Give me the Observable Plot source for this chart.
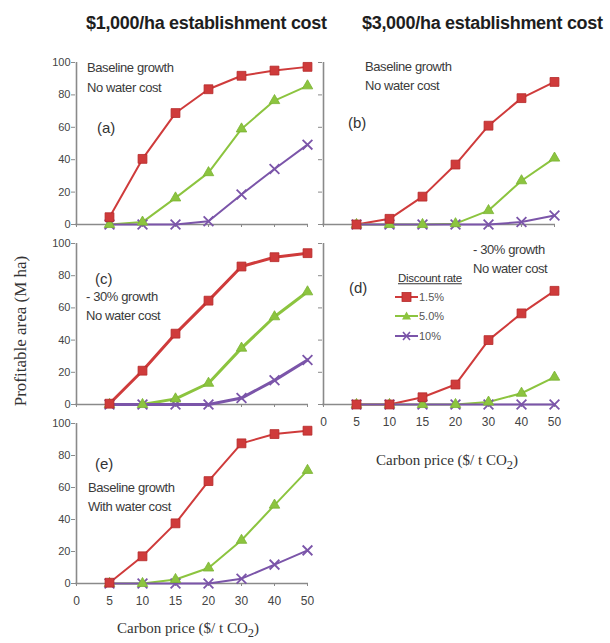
<!DOCTYPE html>
<html>
<head>
<meta charset="utf-8">
<script src="https://cdn.jsdelivr.net/npm/d3@7"></script>
<script src="https://cdn.jsdelivr.net/npm/@observablehq/plot@0.6"></script>
<style>
  html, body { margin: 0; padding: 0; background: #fff; }
  #wrap { position: relative; width: 610px; height: 643px; overflow: hidden; font-family: "Liberation Sans", Arial, sans-serif; }
  #wrap svg { position: absolute; left: 0; top: 0; }
  .t { position: absolute; white-space: nowrap; line-height: 1; }
</style>
</head>
<body>
<div id="wrap"></div>
<script>
// ---- data ----
const priceTicks = ["0", "5", "10", "15", "20", "30", "40", "50"];
const prices = ["5", "10", "15", "20", "30", "40", "50"];
const rates = ["1.5%", "5.0%", "10%"];
const yTicks = [0, 20, 40, 60, 80, 100];

// (a) $1,000/ha, baseline growth, no water cost
const a_r15 = [4.5, 40.5, 68.8, 83.5, 91.8, 95, 97.3];
const a_r50 = [0, 1.5, 16.4, 32, 59, 76.5, 85.6];
const a_r10 = [0, 0, 0, 2, 18.5, 34.3, 49.3];
// (b) $3,000/ha, baseline growth, no water cost
const b_r15 = [0, 3.5, 17.2, 37, 61, 78, 88];
const b_r50 = [0, 0, 0, 0.5, 8.6, 27, 41];
const b_r10 = [0, 0, 0, 0, 0, 1.5, 5.5];
// (c) $1,000/ha, -30% growth, no water cost
const c_r15 = [0.5, 21, 44, 64.5, 85.7, 91.5, 94];
const c_r50 = [0, 0, 3.5, 13.2, 35, 54.5, 70];
const c_r10 = [0, 0, 0, 0, 4, 15, 27.7];
// (d) $3,000/ha, -30% growth, no water cost
const d_r15 = [0, 0, 4.5, 12.4, 40, 56.6, 70.6];
const d_r50 = [0, 0, 0, 0, 1.5, 7, 17];
const d_r10 = [0, 0, 0, 0, 0, 0, 0];
// (e) $1,000/ha, baseline growth, with water cost
const e_r15 = [0.5, 17, 37.6, 64, 87.6, 93.4, 95.5];
const e_r50 = [0, 0, 2.5, 9.7, 27, 49, 70.7];
const e_r10 = [0, 0, 0, 0, 3, 11.8, 20.7];

const colTitles = ["$1,000/ha establishment cost", "$3,000/ha establishment cost"];
const yLabel = "Profitable area (M ha)";
const xLabelHTML = "Carbon price ($/ t CO<sub>2</sub>)";
const legendTitle = "Discount rate";

// ---- styles ----
const RED = "#cf3b3b", GREEN = "#8cc43f", PURPLE = "#7b55a9";
const colors = [RED, GREEN, PURPLE];
const W = 610, H = 643;
const cols = [{l: 75, r: 308}, {l: 322, r: 555}];
const rowsG = [{t: 62, b: 224}, {t: 243, b: 404}, {t: 423, b: 583}];

const wrap = document.getElementById("wrap");

function panel(series, col, row, opts) {
  const data = [];
  series.forEach((vals, k) => vals.forEach((v, i) => data.push({price: prices[i], value: v, rate: rates[k]})));
  const c = cols[col], rr = rowsG[row];
  const sw = opts.sw || 2;
  const svg = Plot.plot({
    width: W, height: H,
    marginLeft: c.l, marginRight: W - c.r, marginTop: rr.t, marginBottom: H - rr.b,
    style: {background: "transparent", color: "#444", fontFamily: "Liberation Sans, Arial, sans-serif", overflow: "visible"},
    x: {type: "point", domain: priceTicks, padding: 0, axis: null},
    y: {domain: [0, 100], axis: null},
    marks: [
      Plot.axisY({ticks: yTicks, tickSize: 4, tickPadding: 1, fontSize: 11, stroke: "#8a8a8a", label: null,
        tickFormat: opts.yLabels ? (d => String(d)) : (() => "")}),
      Plot.axisX({tickSize: 3, tickPadding: 10, fontSize: 12, stroke: "#8a8a8a", label: null,
        tickFormat: opts.xLabels ? (d => d) : (() => "")}),
      Plot.ruleY([0], {stroke: "#8a8a8a", strokeWidth: 1.6}),
      Plot.ruleX(["0"], {stroke: "#8a8a8a", strokeWidth: 1.6}),
      Plot.line(data, {x: "price", y: "value", z: "rate", stroke: d => colors[rates.indexOf(d.rate)], strokeWidth: sw}),
      Plot.dot(data.filter(d => d.rate === rates[2]), {x: "price", y: "value", symbol: "times", r: 4.5, stroke: PURPLE, strokeWidth: 1.8}),
      Plot.dot(data.filter(d => d.rate === rates[1]), {x: "price", y: "value", symbol: "triangle", r: 3.9, fill: GREEN, stroke: "#7ab232", strokeWidth: 0.8}),
      Plot.dot(data.filter(d => d.rate === rates[0]), {x: "price", y: "value", symbol: "square", r: 5, fill: RED, stroke: "#b52a2a", strokeWidth: 0.8})
    ]
  });
  wrap.appendChild(svg);
}

panel([a_r15, a_r50, a_r10], 0, 0, {yLabels: true});
panel([b_r15, b_r50, b_r10], 1, 0, {yLabels: false});
panel([c_r15, c_r50, c_r10], 0, 1, {yLabels: true, sw: 3});
panel([d_r15, d_r50, d_r10], 1, 1, {yLabels: false, xLabels: true});
panel([e_r15, e_r50, e_r10], 0, 2, {yLabels: true, xLabels: true});

// ---- text ----
function put(html, x, y, css, anchor) {
  const d = document.createElement("div");
  d.className = "t";
  d.innerHTML = html;
  Object.assign(d.style, {left: x + "px", top: y + "px"}, css || {});
  d.style.transform = anchor === "c" ? "translate(-50%,-50%)" : "translate(0,-50%)";
  wrap.appendChild(d);
  return d;
}
const titleCss = {fontWeight: "bold", fontSize: "18px", letterSpacing: "-0.3px", color: "#1e1e1e"};
put(colTitles[0], 86, 23, titleCss);
put(colTitles[1], 362, 23, titleCss);

const noteCss = {fontSize: "13px", letterSpacing: "-0.4px", color: "#3a3a3a"};
const tagCss = {fontSize: "15px", color: "#333"};
// (a)
put("Baseline growth", 87, 67, noteCss);
put("No water cost", 87, 87, noteCss);
put("(a)", 97, 127, tagCss);
// (b)
put("Baseline growth", 365, 66, noteCss);
put("No water cost", 365, 85, noteCss);
put("(b)", 348, 122, tagCss);
// (c)
put("(c)", 95, 278, tagCss);
put("- 30% growth", 86, 296, noteCss);
put("No water cost", 86, 315, noteCss);
// (d)
put("(d)", 349, 287, tagCss);
put("- 30% growth", 473, 249, noteCss);
put("No water cost", 473, 268, noteCss);
// (e)
put("(e)", 95, 463, tagCss);
put("Baseline growth", 88, 487, noteCss);
put("With water cost", 88, 506, noteCss);

// axis labels
const serif = {fontFamily: "'Liberation Serif', 'Times New Roman', serif", fontSize: "15px", color: "#333"};
put(xLabelHTML, 188, 630, serif, "c");
put(xLabelHTML, 447, 462, serif, "c");
const yl = put(yLabel, 20, 331, Object.assign({}, serif, {fontSize: "17px"}), "c");
yl.style.transform = "translate(-50%,-50%) rotate(-90deg)";

// legend
put(legendTitle, 398, 279, {fontSize: "11.5px", letterSpacing: "-0.3px", color: "#333", textDecoration: "underline"});
const syms = [
  `<rect x="7" y="2.5" width="9" height="9" fill="${RED}" stroke="#b52a2a" stroke-width="0.8"/>`,
  `<path d="M11.5,2.5 L16,10.5 L7,10.5 Z" fill="${GREEN}"/>`,
  `<path d="M8,3 L15,11 M15,3 L8,11" stroke="${PURPLE}" stroke-width="1.6"/>`
];
const legY = [297, 316, 336];
rates.forEach((r, i) => {
  const html = `<svg width="24" height="14" style="vertical-align:middle;position:static"><line x1="0" x2="23" y1="7" y2="7" stroke="${colors[i]}" stroke-width="2"/>${syms[i]}</svg><span style="vertical-align:middle">${r}</span>`;
  put(html, 395, legY[i], {fontSize: "11px", color: "#555"});
});
</script>
</body>
</html>
